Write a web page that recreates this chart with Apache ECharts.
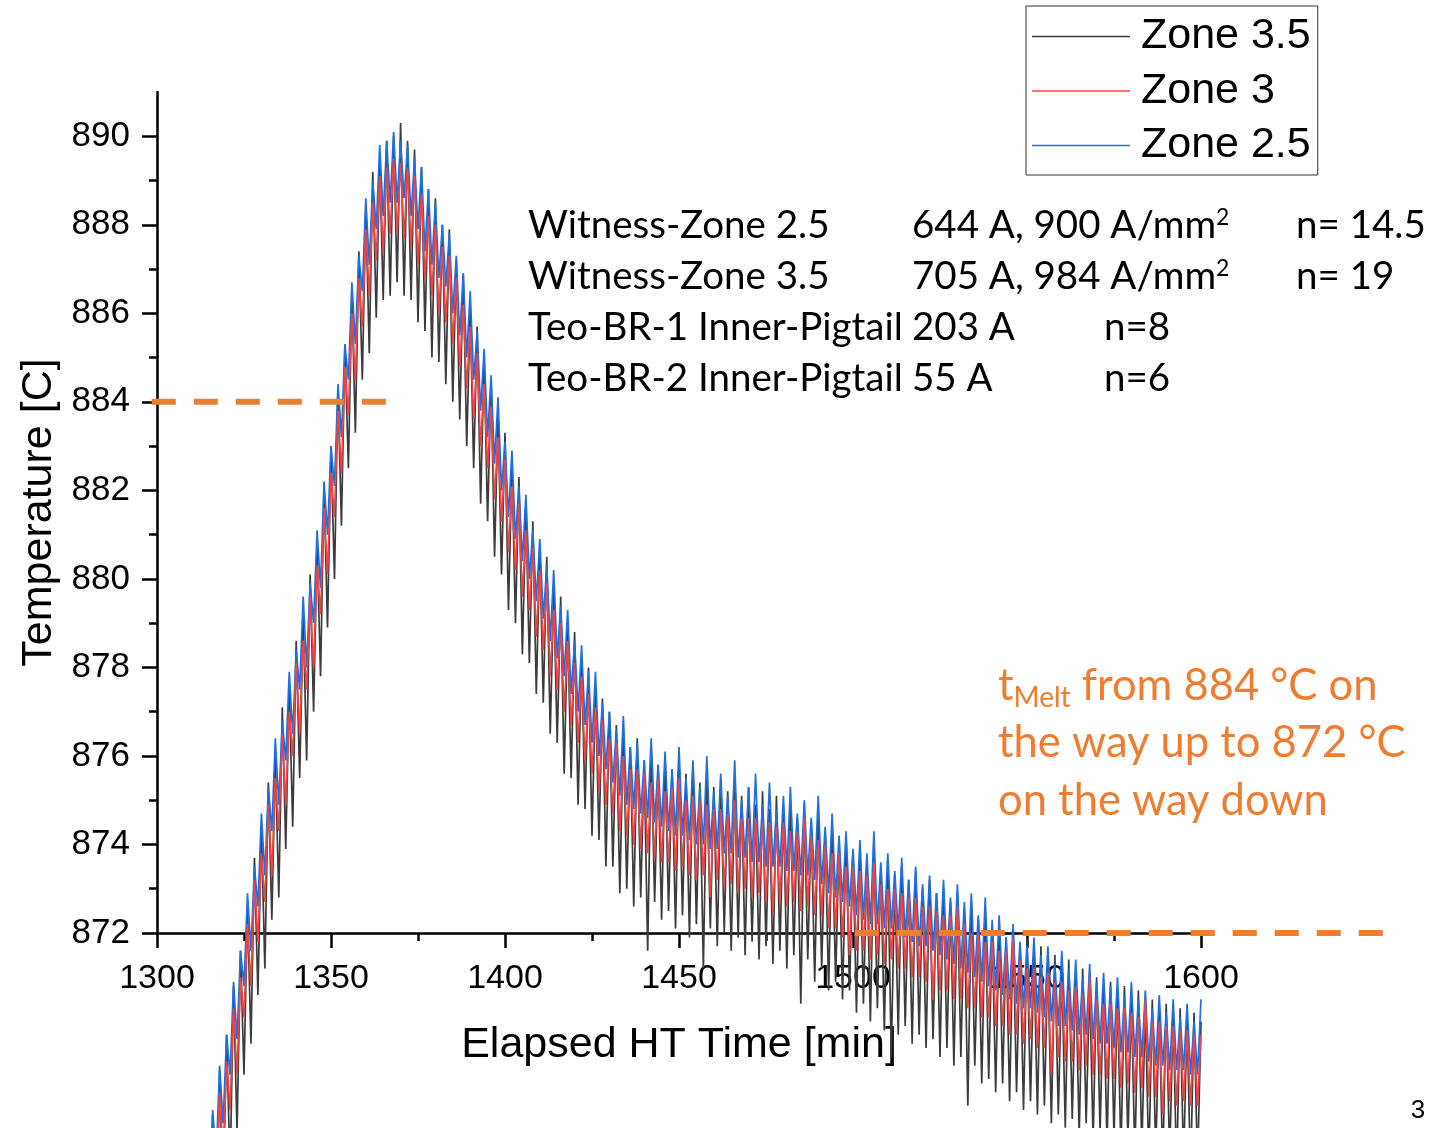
<!DOCTYPE html>
<html>
<head>
<meta charset="utf-8">
<title>Zone temperatures during melt</title>
<script src="https://cdn.jsdelivr.net/npm/echarts@6/dist/echarts.min.js"></script>
<style>
  html, body { margin: 0; padding: 0; background: #ffffff; }
  #chart { width: 1439px; height: 1128px; }
</style>
</head>
<body>
<div id="chart"></div>
<script>
// Thermocouple readings, one sample per minute starting at firstMinute
const firstMinute = 1312;

const zone35 = [
  866.2, 863.1, 867.2, 864.0, 867.9, 864.8, 868.9, 865.9, 869.7, 866.6,
  870.8, 867.5, 871.6, 868.8, 872.6, 869.5, 873.7, 870.6, 874.4, 871.2,
  875.4, 872.3, 876.0, 872.8, 877.1, 873.9, 877.6, 874.4, 878.6, 875.5,
  879.2, 875.9, 880.1, 877.0, 880.8, 877.8, 882.1, 878.9, 883.0, 880.0,
  884.3, 881.2, 885.3, 882.5, 886.5, 883.3, 887.4, 884.5, 888.4, 885.1,
  889.2, 885.9, 889.5, 886.3, 889.9, 886.4, 890.0, 886.7, 890.3, 886.4,
  889.9, 886.3, 889.7, 885.8, 889.3, 885.6, 888.8, 885.0, 888.6, 884.9,
  888.0, 884.4, 887.9, 884.0, 887.2, 883.6, 886.9, 883.0, 886.1, 882.5,
  885.7, 881.7, 885.0, 881.3, 884.5, 880.5, 883.7, 880.1, 883.3, 879.3,
  882.6, 879.0, 882.3, 878.3, 881.6, 878.1, 881.3, 877.4, 880.7, 877.2,
  880.5, 876.5, 879.8, 876.3, 879.6, 875.6, 879.0, 875.5, 878.8, 874.9,
  878.2, 874.8, 878.0, 874.2, 877.5, 874.1, 877.3, 873.5, 877.0, 873.5,
  876.7, 872.9, 876.6, 873.0, 876.2, 872.6, 876.4, 872.8, 875.9, 871.6,
  876.2, 872.7, 875.8, 872.3, 876.0, 872.5, 875.7, 872.1, 875.9, 872.4,
  875.6, 871.9, 875.8, 872.2, 875.4, 871.2, 875.7, 872.1, 875.3, 871.7,
  875.5, 872.0, 875.2, 871.6, 875.4, 871.9, 875.1, 871.5, 875.3, 871.8,
  874.9, 871.4, 875.2, 871.7, 874.8, 871.3, 875.1, 871.6, 874.8, 871.2,
  875.0, 871.5, 874.6, 870.4, 874.9, 871.4, 874.5, 870.9, 874.8, 871.2,
  874.3, 870.7, 874.5, 870.9, 874.1, 870.5, 874.2, 870.7, 873.8, 870.2,
  874.0, 870.4, 873.6, 870.0, 874.0, 870.3, 873.5, 869.8, 873.6, 869.2,
  873.3, 869.7, 873.5, 869.9, 873.2, 869.5, 873.4, 869.7, 873.0, 869.4,
  873.2, 869.6, 872.9, 869.2, 873.0, 869.4, 872.7, 869.0, 872.9, 869.2,
  872.5, 868.1, 872.7, 869.0, 872.3, 868.6, 872.5, 868.7, 872.1, 868.4,
  872.3, 868.6, 871.9, 868.2, 872.1, 868.4, 871.7, 868.0, 871.9, 868.2,
  871.5, 867.9, 871.7, 868.1, 871.4, 867.7, 871.5, 867.9, 871.2, 867.6,
  871.4, 867.8, 871.1, 867.4, 871.2, 867.7, 870.9, 867.3, 871.0, 867.5,
  870.8, 867.2, 870.9, 867.4, 870.6, 867.0, 870.8, 867.3, 870.5, 866.9,
  870.7, 867.1, 870.4, 866.8, 870.5, 867.0, 870.3, 866.7, 870.4, 866.9,
  870.2, 866.6, 870.3, 866.8, 870.1, 866.5, 870.2, 866.7, 870.0
];

const zone3 = [
  865.8, 864.3, 866.7, 865.3, 867.3, 866.2, 868.4, 867.0, 869.1, 868.0,
  870.3, 868.8, 871.0, 870.1, 872.2, 870.8, 873.2, 871.8, 873.8, 872.7,
  874.9, 873.3, 875.5, 874.3, 876.5, 874.9, 877.0, 876.0, 878.1, 876.5,
  878.6, 877.5, 879.6, 878.0, 880.3, 879.2, 881.6, 880.1, 882.4, 881.4,
  883.8, 882.4, 884.8, 883.7, 886.0, 884.5, 886.8, 885.7, 887.9, 886.4,
  888.5, 887.2, 889.1, 887.4, 889.3, 887.8, 889.5, 887.8, 889.4, 887.7,
  889.3, 887.5, 889.1, 887.1, 888.7, 886.8, 888.2, 886.4, 888.0, 886.0,
  887.5, 885.8, 887.3, 885.3, 886.8, 884.8, 886.2, 884.3, 885.7, 883.6,
  885.1, 883.0, 884.4, 882.5, 883.9, 881.8, 883.2, 881.3, 882.7, 880.6,
  882.1, 880.2, 881.7, 879.6, 881.1, 879.3, 880.7, 878.7, 880.2, 878.4,
  879.9, 877.8, 879.3, 877.5, 879.0, 877.0, 878.6, 876.7, 878.1, 876.3,
  877.8, 875.9, 877.4, 875.6, 877.1, 875.2, 876.8, 874.9, 876.4, 874.7,
  876.3, 874.3, 876.0, 874.2, 875.7, 874.0, 875.7, 873.9, 875.6, 873.8,
  875.4, 873.7, 875.5, 873.6, 875.2, 873.6, 875.3, 873.4, 875.5, 873.5,
  875.0, 873.3, 875.1, 873.2, 875.0, 873.3, 874.9, 872.8, 874.8, 873.2,
  874.8, 873.0, 874.7, 873.1, 875.0, 872.9, 874.6, 873.0, 874.6, 872.8,
  874.6, 872.9, 874.5, 872.7, 874.5, 872.4, 874.4, 872.7, 874.5, 872.6,
  874.3, 872.7, 874.3, 872.5, 874.6, 872.6, 874.2, 872.4, 874.1, 872.4,
  874.0, 872.1, 873.8, 872.1, 873.8, 871.9, 873.5, 871.5, 873.5, 871.6,
  873.4, 871.6, 873.3, 871.4, 873.6, 871.5, 873.1, 871.3, 873.0, 871.4,
  873.0, 871.2, 872.9, 871.2, 872.8, 871.0, 872.8, 871.0, 872.6, 870.9,
  872.6, 870.5, 872.5, 870.7, 872.4, 870.7, 872.4, 870.5, 872.6, 870.5,
  872.2, 870.3, 872.0, 870.3, 872.0, 870.1, 871.8, 870.1, 871.8, 869.9,
  871.6, 869.9, 871.6, 869.7, 871.9, 869.7, 871.4, 869.5, 871.2, 869.6,
  871.2, 869.4, 871.0, 869.4, 871.1, 868.8, 870.9, 869.2, 870.9, 869.1,
  870.7, 869.1, 870.8, 868.9, 870.6, 869.0, 871.0, 868.8, 870.5, 868.8,
  870.4, 868.7, 870.4, 868.7, 870.3, 868.5, 870.3, 868.6, 870.2, 868.4,
  870.1, 868.5, 870.5, 868.3, 870.0, 868.3, 870.0, 867.9, 869.9, 868.2,
  869.9, 868.1, 869.8, 868.2, 869.8, 868.1, 869.7, 868.1, 869.7
];

const zone25 = [
  866.4, 864.9, 867.3, 866.0, 868.0, 866.9, 869.0, 867.7, 869.7, 868.8,
  870.9, 869.6, 871.6, 870.8, 872.9, 871.6, 873.5, 872.6, 874.7, 873.3,
  875.3, 874.3, 876.4, 874.9, 876.8, 875.9, 877.9, 876.5, 878.4, 877.5,
  879.6, 878.0, 879.9, 879.0, 881.1, 879.8, 882.2, 881.0, 883.0, 882.1,
  884.4, 883.2, 885.3, 884.5, 886.7, 885.3, 887.3, 886.5, 888.6, 887.1,
  889.0, 887.9, 889.8, 888.2, 889.9, 888.5, 890.1, 888.5, 889.9, 888.6,
  889.8, 888.2, 889.5, 887.9, 889.3, 887.4, 888.8, 887.1, 888.5, 886.8,
  888.0, 886.6, 887.8, 886.0, 887.3, 885.5, 886.9, 885.0, 886.5, 884.5,
  885.6, 883.8, 885.2, 883.2, 884.6, 882.6, 884.1, 882.0, 883.1, 881.4,
  882.9, 880.9, 882.1, 880.4, 881.9, 880.0, 881.1, 879.5, 880.9, 879.1,
  880.3, 878.6, 880.2, 878.2, 879.4, 877.8, 879.3, 877.4, 878.6, 877.0,
  878.5, 876.7, 877.9, 876.3, 877.9, 876.0, 877.2, 875.7, 877.0, 875.4,
  876.6, 875.1, 876.9, 874.9, 876.2, 874.8, 876.3, 874.7, 875.9, 874.6,
  876.4, 874.5, 875.8, 874.4, 876.1, 874.3, 875.7, 874.2, 876.2, 874.2,
  875.5, 874.1, 875.9, 874.0, 875.3, 874.0, 876.0, 873.9, 875.2, 873.9,
  875.6, 873.8, 875.1, 873.8, 875.9, 873.7, 875.0, 873.7, 875.3, 873.6,
  875.6, 873.6, 874.9, 873.5, 875.4, 873.5, 874.8, 873.5, 875.1, 873.4,
  875.3, 873.4, 874.7, 873.3, 875.0, 873.3, 874.6, 873.2, 875.1, 873.1,
  874.4, 872.9, 874.7, 872.8, 874.2, 872.7, 874.3, 872.6, 873.9, 872.4,
  874.1, 872.3, 873.8, 872.2, 874.3, 872.2, 873.6, 872.1, 873.8, 872.1,
  873.4, 872.0, 873.7, 871.9, 873.2, 871.8, 873.5, 871.7, 873.1, 871.7,
  873.3, 871.6, 872.9, 871.5, 873.2, 871.4, 872.8, 871.3, 873.1, 871.2,
  872.7, 871.1, 872.9, 871.0, 872.4, 870.9, 872.8, 870.8, 872.3, 870.7,
  872.4, 870.6, 871.9, 870.5, 872.2, 870.4, 871.8, 870.3, 871.7, 870.3,
  871.9, 870.2, 871.5, 870.1, 871.7, 870.0, 871.3, 869.9, 871.6, 869.9,
  871.2, 869.8, 871.4, 869.7, 871.0, 869.7, 871.3, 869.6, 870.9, 869.5,
  871.1, 869.5, 870.8, 869.4, 871.0, 869.3, 870.6, 869.3, 870.9, 869.2,
  870.5, 869.2, 870.7, 869.1, 870.3, 869.0, 870.6, 869.0, 870.2, 868.9,
  870.5, 868.9, 870.1, 868.9, 870.4, 868.8, 870.0, 868.8, 870.5
];

// Axis ticks
const yMajorTicks = [872, 874, 876, 878, 880, 882, 884, 886, 888, 890];
const yMinorTicks = [873, 875, 877, 879, 881, 883, 885, 887, 889];

// Melt-window guide levels and their extents in minutes
const meltUpLevel = 884;
const meltUpSpan = [1298.5, 1365.8];
const meltDownLevel = 872;
const meltDownSpan = [1500.5, 1653];

const minutes = zone3.map((_, i) => firstMinute + i);
const toPoints = vals => vals.map((v, i) => [minutes[i], v]);

const AXIS_FONT = '"Liberation Sans", Arial, sans-serif';
const NOTE_FONT = 'Lato, "Open Sans", sans-serif';
const ORANGE = '#ED7D31';

// Main plot scale: 1300..1600 min over 1044 px, 872..891 °C over 841 px
const PLOT = { left: 157, top: 92, width: 1044, height: 841, xMin: 1300, xMax: 1600, yMin: 872, yMax: 891 };
const pxPerMin = PLOT.width / (PLOT.xMax - PLOT.xMin);
// Wider overlay grid with the same scale, so the guide lines may run past the plotted range
const GUIDE_X = { min: 1290, max: 1660 };

const chart = echarts.init(document.getElementById('chart'), null, { renderer: 'canvas' });

function zoneSeries(name, vals, color) {
  return {
    name: name,
    type: 'line',
    data: toPoints(vals),
    symbol: 'none',
    showSymbol: false,
    clip: false,
    lineStyle: { color: color, width: 1.7 },
    itemStyle: { color: color },
    emphasis: { disabled: true },
    silent: true
  };
}

function guideSeries(level, span) {
  return {
    type: 'line',
    xAxisIndex: 1,
    yAxisIndex: 2,
    data: [[span[0], level], [span[1], level]],
    symbol: 'none',
    clip: false,
    lineStyle: { color: ORANGE, width: 6, type: [24, 18], cap: 'butt' },
    emphasis: { disabled: true },
    silent: true,
    z: 10
  };
}

const note = (text, x, y) => ({
  type: 'text',
  x: x,
  y: y,
  silent: true,
  style: {
    text: text,
    fontSize: 38.5,
    fontFamily: NOTE_FONT,
    fill: '#000',
    align: 'left',
    verticalAlign: 'middle',
    rich: {
      sup: { fontSize: 23, fontFamily: NOTE_FONT, fill: '#000', verticalAlign: 'top', lineHeight: 23 }
    }
  }
});

const option = {
  animation: false,
  backgroundColor: '#ffffff',
  grid: [
    { left: PLOT.left, top: PLOT.top, width: PLOT.width, height: PLOT.height, containLabel: false },
    {
      left: PLOT.left - (PLOT.xMin - GUIDE_X.min) * pxPerMin,
      top: PLOT.top,
      width: (GUIDE_X.max - GUIDE_X.min) * pxPerMin,
      height: PLOT.height,
      containLabel: false
    }
  ],
  legend: {
    data: ['Zone 3.5', 'Zone 3', 'Zone 2.5'],
    orient: 'vertical',
    left: 1026,
    top: 6,
    padding: [9, 7, 8, 6],
    icon: 'rect',
    itemWidth: 98,
    itemHeight: 1.6,
    itemGap: 11.5,
    borderColor: '#333',
    borderWidth: 1,
    selectedMode: false,
    textStyle: { fontSize: 43, fontFamily: AXIS_FONT, color: '#000', lineHeight: 42, padding: [0, 0, 0, 6] }
  },
  xAxis: [
    {
      type: 'value',
      gridIndex: 0,
      min: PLOT.xMin,
      max: PLOT.xMax,
      interval: 50,
      axisLine: { onZero: false, lineStyle: { color: '#000', width: 2.5 } },
      axisTick: { length: 15, lineStyle: { color: '#000', width: 2.5 } },
      minorTick: { show: true, splitNumber: 2, length: 8, lineStyle: { color: '#000', width: 2.5 } },
      splitLine: { show: false },
      minorSplitLine: { show: false },
      axisLabel: { fontSize: 34, color: '#000', fontFamily: AXIS_FONT, margin: 29, formatter: v => String(v) },
      name: 'Elapsed HT Time [min]',
      nameLocation: 'middle',
      nameGap: 91,
      nameTextStyle: { fontSize: 43, color: '#000', fontFamily: AXIS_FONT }
    },
    {
      type: 'value',
      gridIndex: 1,
      min: GUIDE_X.min,
      max: GUIDE_X.max,
      show: false
    }
  ],
  yAxis: [
    {
      type: 'value',
      gridIndex: 0,
      position: 'left',
      min: PLOT.yMin,
      max: PLOT.yMax,
      axisLine: { show: true, onZero: false, lineStyle: { color: '#000', width: 2.5 } },
      axisTick: { show: true, length: 15, customValues: yMajorTicks, lineStyle: { color: '#000', width: 2.5 } },
      axisLabel: { customValues: yMajorTicks, fontSize: 35, color: '#000', fontFamily: AXIS_FONT, margin: 27, padding: [3, 0, 0, 0] },
      splitLine: { show: false },
      name: 'Temperature [C]',
      nameLocation: 'middle',
      nameGap: 96,
      nameTextStyle: { fontSize: 43, color: '#000', fontFamily: AXIS_FONT }
    },
    {
      type: 'value',
      gridIndex: 0,
      position: 'left',
      min: PLOT.yMin,
      max: PLOT.yMax,
      axisLine: { show: false },
      axisTick: { show: true, length: 8, customValues: yMinorTicks, lineStyle: { color: '#000', width: 2.5 } },
      axisLabel: { show: false },
      splitLine: { show: false }
    },
    {
      type: 'value',
      gridIndex: 1,
      min: PLOT.yMin,
      max: PLOT.yMax,
      show: false
    }
  ],
  series: [
    zoneSeries('Zone 3.5', zone35, '#3c3c3c'),
    zoneSeries('Zone 2.5', zone25, '#1f6fe0'),
    zoneSeries('Zone 3', zone3, '#ee4444'),
    guideSeries(meltUpLevel, meltUpSpan),
    guideSeries(meltDownLevel, meltDownSpan)
  ],
  graphic: [
    note('Witness-Zone 2.5', 528, 226),
    note('644 A, 900 A/mm{sup|2}', 912, 226),
    note('n= 14.5', 1296, 226),
    note('Witness-Zone 3.5', 528, 277),
    note('705 A, 984 A/mm{sup|2}', 912, 277),
    note('n= 19', 1296, 277),
    note('Teo-BR-1 Inner-Pigtail', 528, 328),
    note('203 A', 912, 328),
    note('n=8', 1104, 328),
    note('Teo-BR-2 Inner-Pigtail', 528, 379),
    note('55 A', 912, 379),
    note('n=6', 1104, 379),
    {
      type: 'text', x: 998, y: 686, silent: true,
      style: {
        text: '{m|t}{s|Melt}{m| from 884 °C on}',
        fill: ORANGE, align: 'left', verticalAlign: 'middle',
        rich: {
          m: { fontSize: 43.5, fontFamily: NOTE_FONT, fill: ORANGE, lineHeight: 52 },
          s: { fontSize: 28, fontFamily: NOTE_FONT, fill: ORANGE, lineHeight: 28, verticalAlign: 'bottom', padding: [14, 0, 0, 0] }
        }
      }
    },
    {
      type: 'text', x: 998, y: 743, silent: true,
      style: { text: 'the way up to 872 °C', fontSize: 43.5, fontFamily: NOTE_FONT, fill: ORANGE, align: 'left', verticalAlign: 'middle' }
    },
    {
      type: 'text', x: 998, y: 801, silent: true,
      style: { text: 'on the way down', fontSize: 43.5, fontFamily: NOTE_FONT, fill: ORANGE, align: 'left', verticalAlign: 'middle' }
    },
    {
      type: 'text', x: 1418, y: 1111, silent: true,
      style: { text: '3', fontSize: 26, fontFamily: AXIS_FONT, fill: '#000', align: 'center', verticalAlign: 'middle' }
    }
  ]
};

chart.setOption(option);
</script>
</body>
</html>
